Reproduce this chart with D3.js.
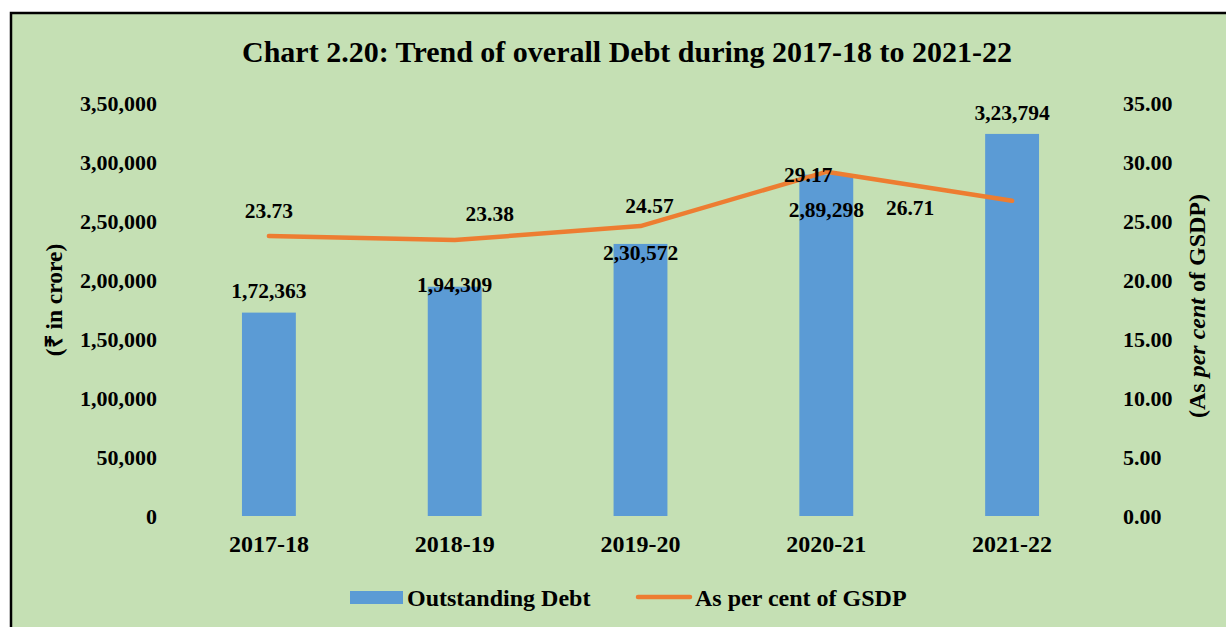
<!DOCTYPE html>
<html lang="en">
<head>
    <meta charset="UTF-8">
    <title>Chart 2.20</title>
    <style>
        body { margin: 0; background: #ffffff; }
        text { font-family: "Liberation Serif", "Times New Roman", serif; font-weight: bold; fill: #000000; }
    </style>
</head>
<body>
    <svg width="1226" height="627"></svg>
    <script src="https://cdnjs.cloudflare.com/ajax/libs/d3/7.8.5/d3.min.js"></script>
    <script>
        var years = ['2017-18', '2018-19', '2019-20', '2020-21', '2021-22'];
        var debt = [172363, 194309, 230572, 289298, 323794];
        var gsdpPct = [23.73, 23.38, 24.57, 29.17, 26.71];
        var leftTicks = [0, 50000, 100000, 150000, 200000, 250000, 300000, 350000];
        var rightTicks = [0, 5, 10, 15, 20, 25, 30, 35];

        // manual label nudges (the original has hand placed labels)
        var debtLabelDy = [-22, -2, 9, 35, -21];
        var pctLabelDx = [0, 35, 9, -18, -102];
        var pctLabelDy = [-26, -27, -21, 3, 7];

        var svg = d3.select('svg');

        svg.append('rect')
            .attr('x', 11).attr('y', 13)
            .attr('width', 1240).attr('height', 640)
            .attr('fill', '#C5E0B4')
            .attr('stroke', '#000000')
            .attr('stroke-width', 2.5);

        svg.append('text')
            .attr('x', 627).attr('y', 62)
            .attr('text-anchor', 'middle')
            .style('font-size', '30px')
            .text('Chart 2.20: Trend of overall Debt during 2017-18 to 2021-22');

        var xScale = d3.scaleBand()
            .domain(years)
            .range([176, 1105])
            .paddingInner(0.71)
            .paddingOuter(0.355);

        var yLeft = d3.scaleLinear().domain([0, 350000]).range([516, 103]);
        var yRight = d3.scaleLinear().domain([0, 35]).range([516, 103]);

        // indian style grouping 3,50,000
        function inr(v) {
            var s = String(v);
            if (s.length <= 3) return s;
            var last = s.slice(-3), rest = s.slice(0, -3);
            rest = rest.replace(/\B(?=(\d{2})+(?!\d))/g, ',');
            return rest + ',' + last;
        }

        var leftAxis = d3.axisLeft(yLeft).tickValues(leftTicks).tickSize(0).tickPadding(0).tickFormat(inr);
        var gl = svg.append('g').attr('transform', 'translate(157,0)').call(leftAxis);
        gl.select('.domain').remove();
        gl.selectAll('text').style('font-size', '22px').style('font-family', null).attr('dy', '0.35em');

        var rightAxis = d3.axisRight(yRight).tickValues(rightTicks).tickSize(0).tickPadding(0).tickFormat(d3.format('.2f'));
        var gr = svg.append('g').attr('transform', 'translate(1123,0)').call(rightAxis);
        gr.select('.domain').remove();
        gr.selectAll('text').style('font-size', '22px').style('font-family', null).attr('dy', '0.35em');

        var xAxis = d3.axisBottom(xScale).tickSize(0).tickPadding(0);
        var gx = svg.append('g').attr('transform', 'translate(0,530)').call(xAxis);
        gx.select('.domain').remove();
        gx.selectAll('text').style('font-size', '24px').style('font-family', null).attr('dy', '0.9em');

        svg.append('text')
            .attr('transform', 'translate(62,300) rotate(-90)')
            .attr('text-anchor', 'middle')
            .style('font-size', '23.5px')
            .text('(\u20B9 in crore)');

        var rt = svg.append('text')
            .attr('transform', 'translate(1205,306) rotate(-90)')
            .attr('text-anchor', 'middle')
            .style('font-size', '24px');
        rt.append('tspan').text('(As ');
        rt.append('tspan').style('font-style', 'italic').text('per cent');
        rt.append('tspan').text(' of GSDP)');

        svg.selectAll('rect.bar')
            .data(debt)
            .enter()
            .append('rect')
            .attr('class', 'bar')
            .attr('x', (d, i) => xScale(years[i]))
            .attr('y', d => yLeft(d))
            .attr('width', xScale.bandwidth())
            .attr('height', d => yLeft(0) - yLeft(d))
            .attr('fill', '#5B9BD5');

        var line = d3.line()
            .x((d, i) => xScale(years[i]) + xScale.bandwidth() / 2)
            .y(d => yRight(d));

        svg.append('path')
            .datum(gsdpPct)
            .attr('d', line)
            .attr('fill', 'none')
            .attr('stroke', '#ED7D31')
            .attr('stroke-width', 4.5)
            .attr('stroke-linejoin', 'round')
            .attr('stroke-linecap', 'round');

        svg.selectAll('text.debt')
            .data(debt)
            .enter()
            .append('text')
            .attr('class', 'debt')
            .attr('x', (d, i) => xScale(years[i]) + xScale.bandwidth() / 2)
            .attr('y', (d, i) => yLeft(d) + debtLabelDy[i])
            .attr('dy', '0.35em')
            .attr('text-anchor', 'middle')
            .style('font-size', '21.5px')
            .text(d => inr(d));

        svg.selectAll('text.pct')
            .data(gsdpPct)
            .enter()
            .append('text')
            .attr('class', 'pct')
            .attr('x', (d, i) => xScale(years[i]) + xScale.bandwidth() / 2 + pctLabelDx[i])
            .attr('y', (d, i) => yRight(d) + pctLabelDy[i])
            .attr('dy', '0.35em')
            .attr('text-anchor', 'middle')
            .style('font-size', '21.5px')
            .text(d => d.toFixed(2));

        // legend
        var lg = svg.append('g');
        lg.append('rect').attr('x', 350).attr('y', 591).attr('width', 53).attr('height', 13).attr('fill', '#5B9BD5');
        lg.append('text').attr('x', 407).attr('y', 606).style('font-size', '24px').text('Outstanding Debt');
        lg.append('line').attr('x1', 638).attr('x2', 690).attr('y1', 597).attr('y2', 597)
            .attr('stroke', '#ED7D31').attr('stroke-width', 4.5).attr('stroke-linecap', 'round');
        lg.append('text').attr('x', 695).attr('y', 606).style('font-size', '24px').text('As per cent of GSDP');
    </script>
</body>
</html>
